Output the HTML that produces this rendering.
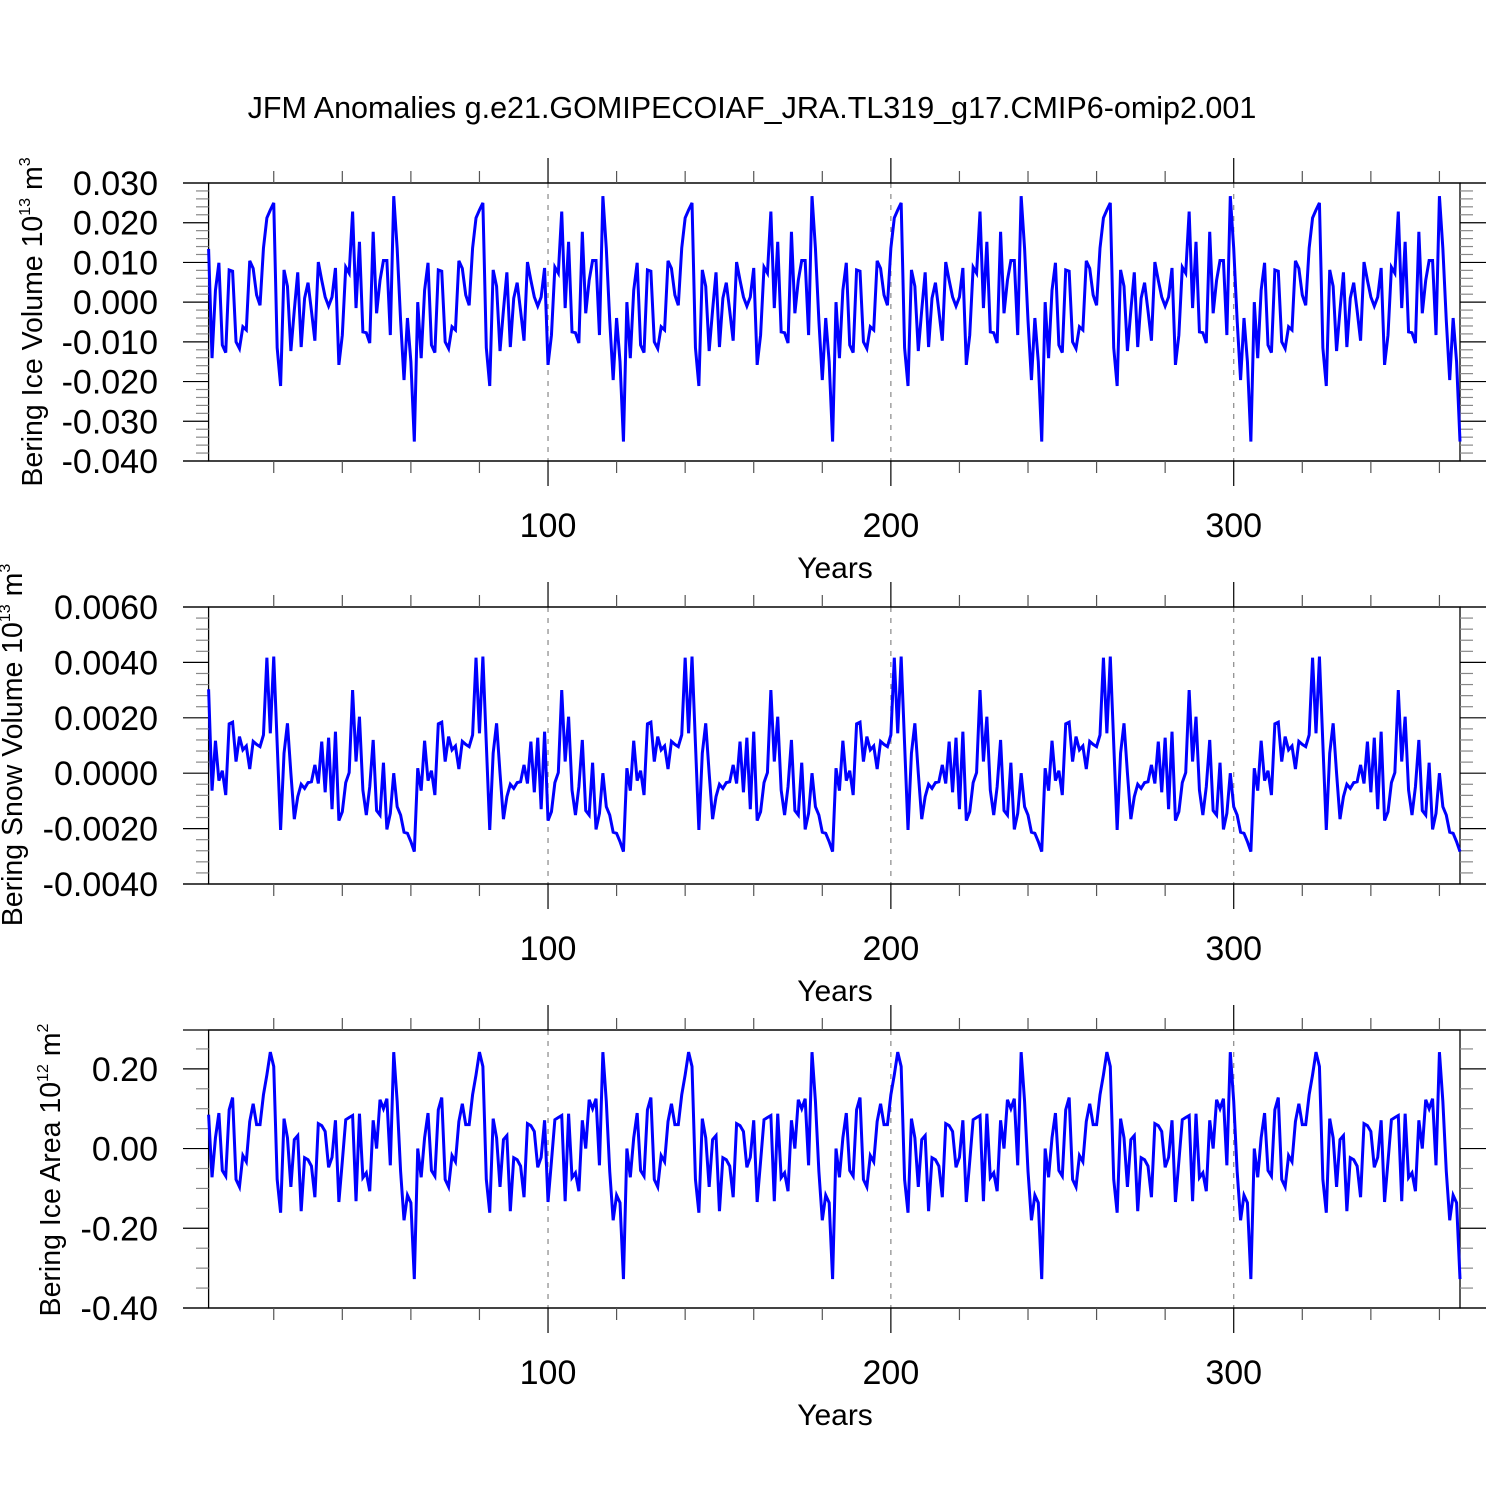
<!DOCTYPE html>
<html><head><meta charset="utf-8">
<style>
html,body{margin:0;padding:0;background:#fff;}
svg{display:block;font-family:"Liberation Sans",sans-serif;}
</style></head>
<body>
<svg id="chart" width="1500" height="1500" viewBox="0 0 1500 1500" xmlns="http://www.w3.org/2000/svg">
<rect width="1500" height="1500" fill="#fff"/>
<text x="752" y="118" font-size="30.5" text-anchor="middle">JFM Anomalies g.e21.GOMIPECOIAF_JRA.TL319_g17.CMIP6-omip2.001</text>
</svg>
<script>
// ---- data (one 61-year forcing cycle, repeated 6 times) ----
const years = [];
const iceCycle = [0.0,-0.0141,0.003,0.0099,-0.0108,-0.0127,0.0081,0.0078,-0.010,-0.0117,-0.0062,-0.007,0.0104,0.0085,0.0018,-0.0008,0.0136,0.0212,0.0232,0.025,-0.0115,-0.0211,0.0081,0.004,-0.0123,-0.002,0.0075,-0.0113,0.001,0.0049,-0.0022,-0.0097,0.0101,0.0055,0.0013,-0.0010,0.0013,0.0086,-0.0158,-0.0083,0.0088,0.0073,0.0228,-0.0015,0.0152,-0.0075,-0.0077,-0.0103,0.0177,-0.0028,0.0055,0.0105,0.0105,-0.0083,0.0267,0.0135,-0.0046,-0.0196,-0.004,-0.0150,-0.0351];
const iceFirst = 0.0134;
const snowCycle = [0.18,-0.63,1.17,-0.27,0.09,-0.79,1.78,1.84,0.42,1.32,0.84,0.98,0.15,1.15,1.04,0.96,1.38,4.17,1.44,4.21,1.06,-2.05,0.72,1.8,0.0,-1.66,-0.85,-0.4,-0.55,-0.34,-0.31,0.3,-0.37,1.14,-0.69,1.28,-1.3,1.5,-1.71,-1.39,-0.34,0.02,3.0,0.42,2.04,-0.61,-1.51,-0.49,1.2,-1.35,-1.51,0.38,-2.03,-1.45,0.0,-1.21,-1.51,-2.13,-2.17,-2.47,-2.83];
const snowFirst = 3.03;
const areaCycle = [0.0,-0.072,0.027,0.089,-0.055,-0.069,0.0975,0.128,-0.0775,-0.096,-0.0175,-0.033,0.068,0.1125,0.06,0.06,0.135,0.185,0.242,0.206,-0.0775,-0.161,0.075,0.027,-0.096,0.0225,0.0325,-0.157,-0.023,-0.028,-0.044,-0.122,0.0625,0.0575,0.043,-0.047,-0.022,0.071,-0.134,-0.032,0.0725,0.078,0.083,-0.132,0.0875,-0.073,-0.061,-0.107,0.071,0.0,0.1225,0.1,0.125,-0.042,0.242,0.118,-0.057,-0.18,-0.117,-0.136,-0.3275];
const areaFirst = 0.085;
const xTickValues = [100,200,300];
const xTickLabels = ["100","200","300"];
const iceTicks = [-0.04,-0.03,-0.02,-0.01,0,0.01,0.02,0.03];
const snowTicks = [-0.004,-0.002,0,0.002,0.004,0.006];
const areaTicks = [-0.4,-0.2,0,0.2];

function build(cycle, first, scale){
  const out=[];
  for(let c=0;c<6;c++) for(let i=0;i<cycle.length;i++) out.push((c===0&&i===0?first:cycle[i])*scale);
  return out;
}
const iceVals = build(iceCycle, iceFirst, 1);
const snowVals = build(snowCycle, snowFirst, 0.001);
const areaVals = build(areaCycle, areaFirst, 1);
for(let i=0;i<iceVals.length;i++) years.push(i+1);

const NS="http://www.w3.org/2000/svg";
const svg=document.getElementById('chart');
function el(tag,attrs,parent){const e=document.createElementNS(NS,tag);for(const k in attrs)e.setAttribute(k,attrs[k]);(parent||svg).appendChild(e);return e;}

const X0=208.6, X1=1460;
const xMin=1, xMax=366;
function xs(v){return X0+(v-xMin)/(xMax-xMin)*(X1-X0);}

const panels=[
 {name:'ice-volume',top:183,bottom:461,min:-0.04,max:0.03,ticks:iceTicks,dec:3,minor:5,vals:iceVals,
  title:['Bering Ice Volume 10','13',' m','3'],tx:42,ty:322},
 {name:'snow-volume',top:607,bottom:884,min:-0.004,max:0.006,ticks:snowTicks,dec:4,minor:5,vals:snowVals,
  title:['Bering Snow Volume 10','13',' m','3'],tx:22,ty:745},
 {name:'ice-area',top:1030,bottom:1308,min:-0.4,max:0.2975,ticks:areaTicks,dec:2,minor:4,vals:areaVals,
  title:['Bering Ice Area 10','12',' m','2'],tx:60,ty:1170}
];

panels.forEach(p=>{
  const g=el('g',{});
  
  
  const ys=v=>p.bottom-(v-p.min)/(p.max-p.min)*(p.bottom-p.top);
  xTickValues.forEach(v=>{
    const l=el('line',{x1:xs(v),x2:xs(v),y1:p.top,y2:p.bottom,stroke:'#888','stroke-width':1.2,'stroke-dasharray':'5,6'},g);
    
    
  });
  const fr=el('rect',{x:X0,y:p.top,width:X1-X0,height:p.bottom-p.top,fill:'none',stroke:'#000','stroke-width':1.3},g);
  
  
  el('line',{x1:183,x2:1486,y1:p.top,y2:p.top,stroke:'#000','stroke-width':1.3},g);
  el('line',{x1:183,x2:1486,y1:p.bottom,y2:p.bottom,stroke:'#000','stroke-width':1.3},g);
  for(let v=20;v<=360;v+=20){
    const major=v%100===0;
    const len=major?25:12;
    el('line',{x1:xs(v),x2:xs(v),y1:p.bottom,y2:p.bottom+len,stroke:major?'#000':'#555','stroke-width':1.2},g);
    el('line',{x1:xs(v),x2:xs(v),y1:p.top,y2:p.top-len,stroke:major?'#000':'#555','stroke-width':1.2},g);
  }
  xTickValues.forEach((v,i)=>{
    const t=el('text',{x:xs(v),y:p.bottom+76,'font-size':34,'text-anchor':'middle'},g);
    t.textContent=xTickLabels[i];
    
    
  });
  const xt=el('text',{x:835,y:p.bottom+117,'font-size':30,'text-anchor':'middle'},g);
  xt.textContent='Years';
  
  
  const step=p.ticks[1]-p.ticks[0];
  for(let i=0;i<p.ticks.length;i++){
    const v=p.ticks[i], y=ys(v);
    el('line',{x1:183,x2:X0,y1:y,y2:y,stroke:'#000','stroke-width':1.2},g);
    el('line',{x1:X1,x2:1486,y1:y,y2:y,stroke:'#000','stroke-width':1.2},g);
    const t=el('text',{x:158,y:y+12,'font-size':34,'text-anchor':'end'},g);
    t.textContent=v.toFixed(p.dec);
    
    
    for(let k=1;k<p.minor;k++){
      const mv=v+k*step/p.minor;
      if(mv>p.max+1e-9) break;
      const my=ys(mv);
      el('line',{x1:196,x2:X0,y1:my,y2:my,stroke:'#888','stroke-width':1.2},g);
      el('line',{x1:X1,x2:1473,y1:my,y2:my,stroke:'#888','stroke-width':1.2},g);
    }
  }
  const yt=el('text',{x:0,y:0,'font-size':28.5,'text-anchor':'middle',transform:`translate(${p.tx},${p.ty}) rotate(-90)`},g);
  
  
  const s1=el('tspan',{},yt); s1.textContent=p.title[0];
  const s2=el('tspan',{dy:-12,'font-size':16},yt); s2.textContent=p.title[1];
  const s3=el('tspan',{dy:12},yt); s3.textContent=p.title[2];
  const s4=el('tspan',{dy:-12,'font-size':16},yt); s4.textContent=p.title[3];
  const d=p.vals.map((v,i)=>(i?'L':'M')+xs(years[i]).toFixed(2)+','+ys(v).toFixed(2)).join('');
  const path=el('path',{d:d,fill:'none',stroke:'#0000ff','stroke-width':3,'stroke-linejoin':'miter'},g);
  
  
});
</script>
</body></html>
